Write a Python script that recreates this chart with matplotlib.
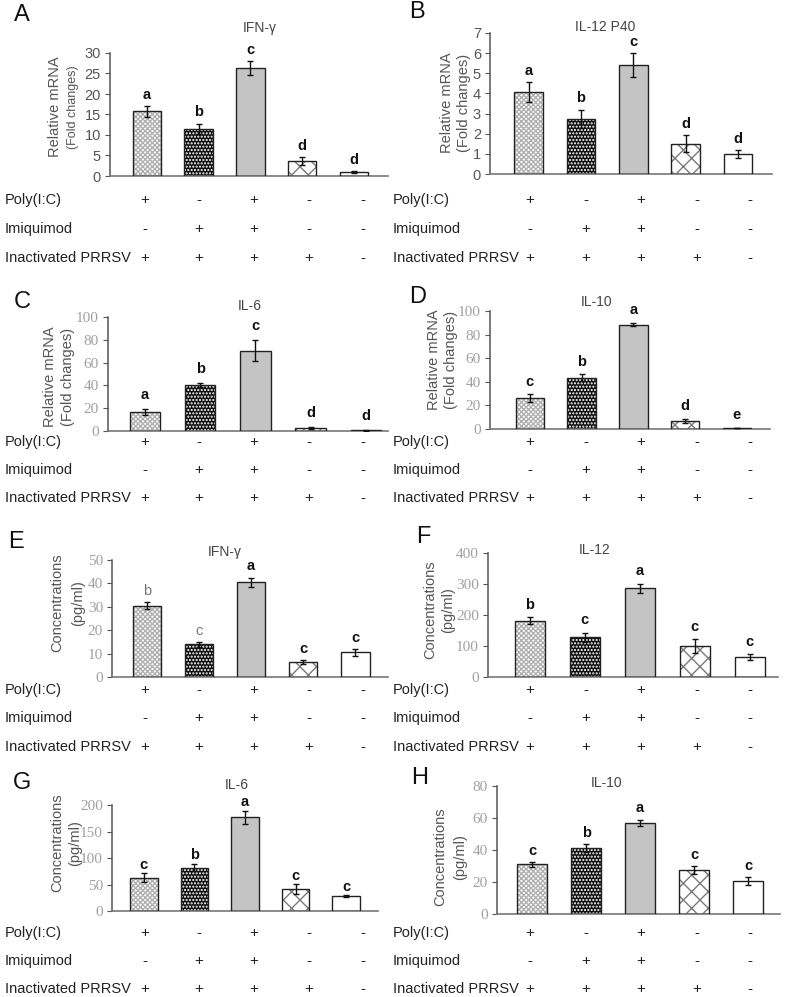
import matplotlib.pyplot as plt
import numpy as np

plt.rcParams['font.family'] = ['Liberation Sans', 'DejaVu Sans']

# treatment table under every panel
row_names = ['Poly(I:C)', 'Imiquimod', 'Inactivated PRRSV']
signs = [['+', '-', '+', '-', '-'],
         ['-', '+', '+', '-', '-'],
         ['+', '+', '+', '+', '-']]

titles = ['IFN-γ', 'IL-12 P40', 'IL-6', 'IL-10', 'IFN-γ', 'IL-12', 'IL-6', 'IL-10']
letters = ['A', 'B', 'C', 'D', 'E', 'F', 'G', 'H']

# values
a_vals = [15.8, 11.5, 26.3, 3.7, 1.0]
a_err = [1.3, 1.3, 1.7, 1.0, 0.15]
a_sig = ['a', 'b', 'c', 'd', 'd']

b_vals = [4.05, 2.75, 5.4, 1.5, 1.0]
b_err = [0.5, 0.45, 0.6, 0.42, 0.2]
b_sig = ['a', 'b', 'c', 'd', 'd']

c_vals = [16.5, 40.5, 70.5, 2.5, 0.5]
c_err = [2.5, 1.5, 9.5, 1.0, 0.2]
c_sig = ['a', 'b', 'c', 'd', 'd']

d_vals = [26.0, 43.5, 88.5, 7.0, 1.0]
d_err = [3.5, 3.0, 1.5, 1.8, 0.2]
d_sig = ['c', 'b', 'a', 'd', 'e']

e_vals = [30.5, 14.0, 40.5, 6.5, 10.5]
e_err = [1.5, 1.0, 2.0, 0.8, 1.5]
e_sig = ['b', 'c', 'a', 'c', 'c']

f_vals = [182, 128, 286, 100, 64]
f_err = [10, 15, 15, 22, 10]
f_sig = ['b', 'c', 'a', 'c', 'c']

g_vals = [63, 82, 177, 42, 28]
g_err = [8, 7, 12, 9, 2]
g_sig = ['c', 'b', 'a', 'c', 'c']

h_vals = [31, 41, 57, 27.5, 20.5]
h_err = [1.5, 2.5, 2.0, 2.5, 2.5]
h_sig = ['c', 'b', 'a', 'c', 'c']

y_max = [30, 7, 100, 100, 50, 400, 200, 80]
y_step = [5, 1, 20, 20, 10, 100, 50, 20]

all_vals = [a_vals, b_vals, c_vals, d_vals, e_vals, f_vals, g_vals, h_vals]
all_err = [a_err, b_err, c_err, d_err, e_err, f_err, g_err, h_err]
all_sig = [a_sig, b_sig, c_sig, d_sig, e_sig, f_sig, g_sig, h_sig]

W, H = 787, 997

def fx(x):
    return x / W

def fy(y):
    return 1 - y / H

# layout in pixels: axes box (l, t, r, b), xlim, title xy, letter xy, ylabel xs, ylabel y, table rows
layout = [
    dict(box=(110, 53, 388, 176), xl=(-0.71, 4.66), title=(260, 28), let=(22, 15), yl=(55, 73), ly=107, rows=(200, 229, 258), side='L', serif=False, off=3),
    dict(box=(490, 33, 772, 174), xl=(-0.74, 4.65), title=(605, 27), let=(417, 12), yl=(447, 464), ly=103, rows=(200, 229, 258), side='R', serif=False, off=3),
    dict(box=(108, 317, 388, 431), xl=(-0.67, 4.4), title=(250, 306), let=(22, 302), yl=(50, 68), ly=377, rows=(442, 470, 498), side='L', serif=True, off=5),
    dict(box=(490, 311, 770, 429), xl=(-0.77, 4.64), title=(597, 302), let=(418, 297), yl=(434, 451), ly=360, rows=(442, 470, 498), side='R', serif=True, off=4),
    dict(box=(112, 560, 388, 677), xl=(-0.67, 4.63), title=(225, 552), let=(16, 542), yl=(57, 78), ly=603, rows=(690, 718, 747), side='L', serif=True, off=3),
    dict(box=(488, 553, 778, 677), xl=(-0.76, 4.51), title=(595, 550), let=(423, 537), yl=(430, 448), ly=610, rows=(690, 718, 747), side='R', serif=True, off=4),
    dict(box=(112, 805, 378, 911), xl=(-0.63, 4.63), title=(237, 785), let=(22, 783), yl=(57, 75), ly=843, rows=(933, 961, 989), side='L', serif=True, off=1),
    dict(box=(497, 786, 780, 914), xl=(-0.65, 4.59), title=(607, 783), let=(420, 778), yl=(440, 460), ly=857, rows=(933, 961, 989), side='R', serif=True, off=3),
]

col_x = {'L': [145, 199, 254, 309, 363], 'R': [530, 586, 641, 697, 750]}
lab_x = {'L': 5, 'R': 393}

# bar fills: (face, hatch colour, hatch)
fills = [('white', '#b0b0b0', 'xxxxxxx'),
         ('#111111', 'white', '.....'),
         ('#c4c4c4', '#c4c4c4', None),
         ('white', '#7a7a7a', 'xx'),
         ('white', 'white', None)]

fig = plt.figure(figsize=(W / 100, H / 100), dpi=100)

for i in range(8):
    lo = layout[i]
    l, t, r, b = lo['box']
    ax = fig.add_axes([fx(l), fy(b), fx(r) - fx(l), (b - t) / H])
    x = np.arange(5)
    vals = all_vals[i]
    err = all_err[i]
    for j in range(5):
        fc, hc, hat = fills[j]
        ax.bar(x[j], vals[j], width=0.55, color=fc, edgecolor=hc, hatch=hat, linewidth=0, zorder=2)
    ax.bar(x, vals, width=0.55, fill=False, edgecolor='#222222', linewidth=1, zorder=3)
    ax.errorbar(x, vals, yerr=err, fmt='none', ecolor='#111111', elinewidth=1, capsize=2.5, capthick=1, zorder=4)
    for j in range(5):
        light = (i == 4 and j < 2)
        ax.annotate(all_sig[i][j], (x[j], vals[j] + err[j]), xytext=(0, lo['off']), textcoords='offset points',
                    ha='center', va='bottom', fontsize=10.5,
                    fontweight='normal' if light else 'bold',
                    color='#777777' if light else '#111111')
    ax.set_xlim(*lo['xl'])
    ax.set_ylim(0, y_max[i])
    ax.set_yticks(np.arange(0, y_max[i] + 0.1, y_step[i]))
    ax.set_xticks([])
    for s in ['top', 'right']:
        ax.spines[s].set_visible(False)
    ax.spines['left'].set_color('#555555')
    ax.spines['bottom'].set_color('#777777')
    ax.spines['left'].set_linewidth(1.1)
    ax.spines['bottom'].set_linewidth(1.2)
    ax.tick_params(axis='y', direction='out', length=3.5, color='#555555', pad=3)
    if lo['serif']:
        for tl in ax.get_yticklabels():
            tl.set_fontfamily('Liberation Serif')
            tl.set_color('#a0a0a0')
            tl.set_fontsize(11)
    else:
        for tl in ax.get_yticklabels():
            tl.set_color('#555555')
            tl.set_fontsize(10.5)
    ax.patch.set_alpha(0)

    # title and panel letter
    fig.text(fx(lo['title'][0]), fy(lo['title'][1]), titles[i], ha='center', va='center',
             fontsize=10, color='#444444')
    fig.text(fx(lo['let'][0]), fy(lo['let'][1]), letters[i], ha='center', va='center',
             fontsize=17, color='#111111')

    # y label, two lines
    if i < 4:
        l1, l2 = 'Relative mRNA', '(Fold changes)'
    else:
        l1, l2 = 'Concentrations', '(pg/ml)'
    fig.text(fx(lo['yl'][0]), fy(lo['ly']), l1, rotation=90, ha='center', va='center',
             fontsize=10.5, color='#555555')
    fig.text(fx(lo['yl'][1]), fy(lo['ly']), l2, rotation=90, ha='center', va='center',
             fontsize=9 if i == 0 else 10.5, color='#555555')

    # treatment table
    for k in range(3):
        yy = fy(lo['rows'][k])
        fig.text(fx(lab_x[lo['side']]), yy, row_names[k], ha='left', va='center',
                 fontsize=10.5, color='#222222')
        for j in range(5):
            fig.text(fx(col_x[lo['side']][j]), yy, signs[k][j], ha='center', va='center',
                     fontsize=11, color='#222222')

fig.savefig('out.png', dpi=100)
